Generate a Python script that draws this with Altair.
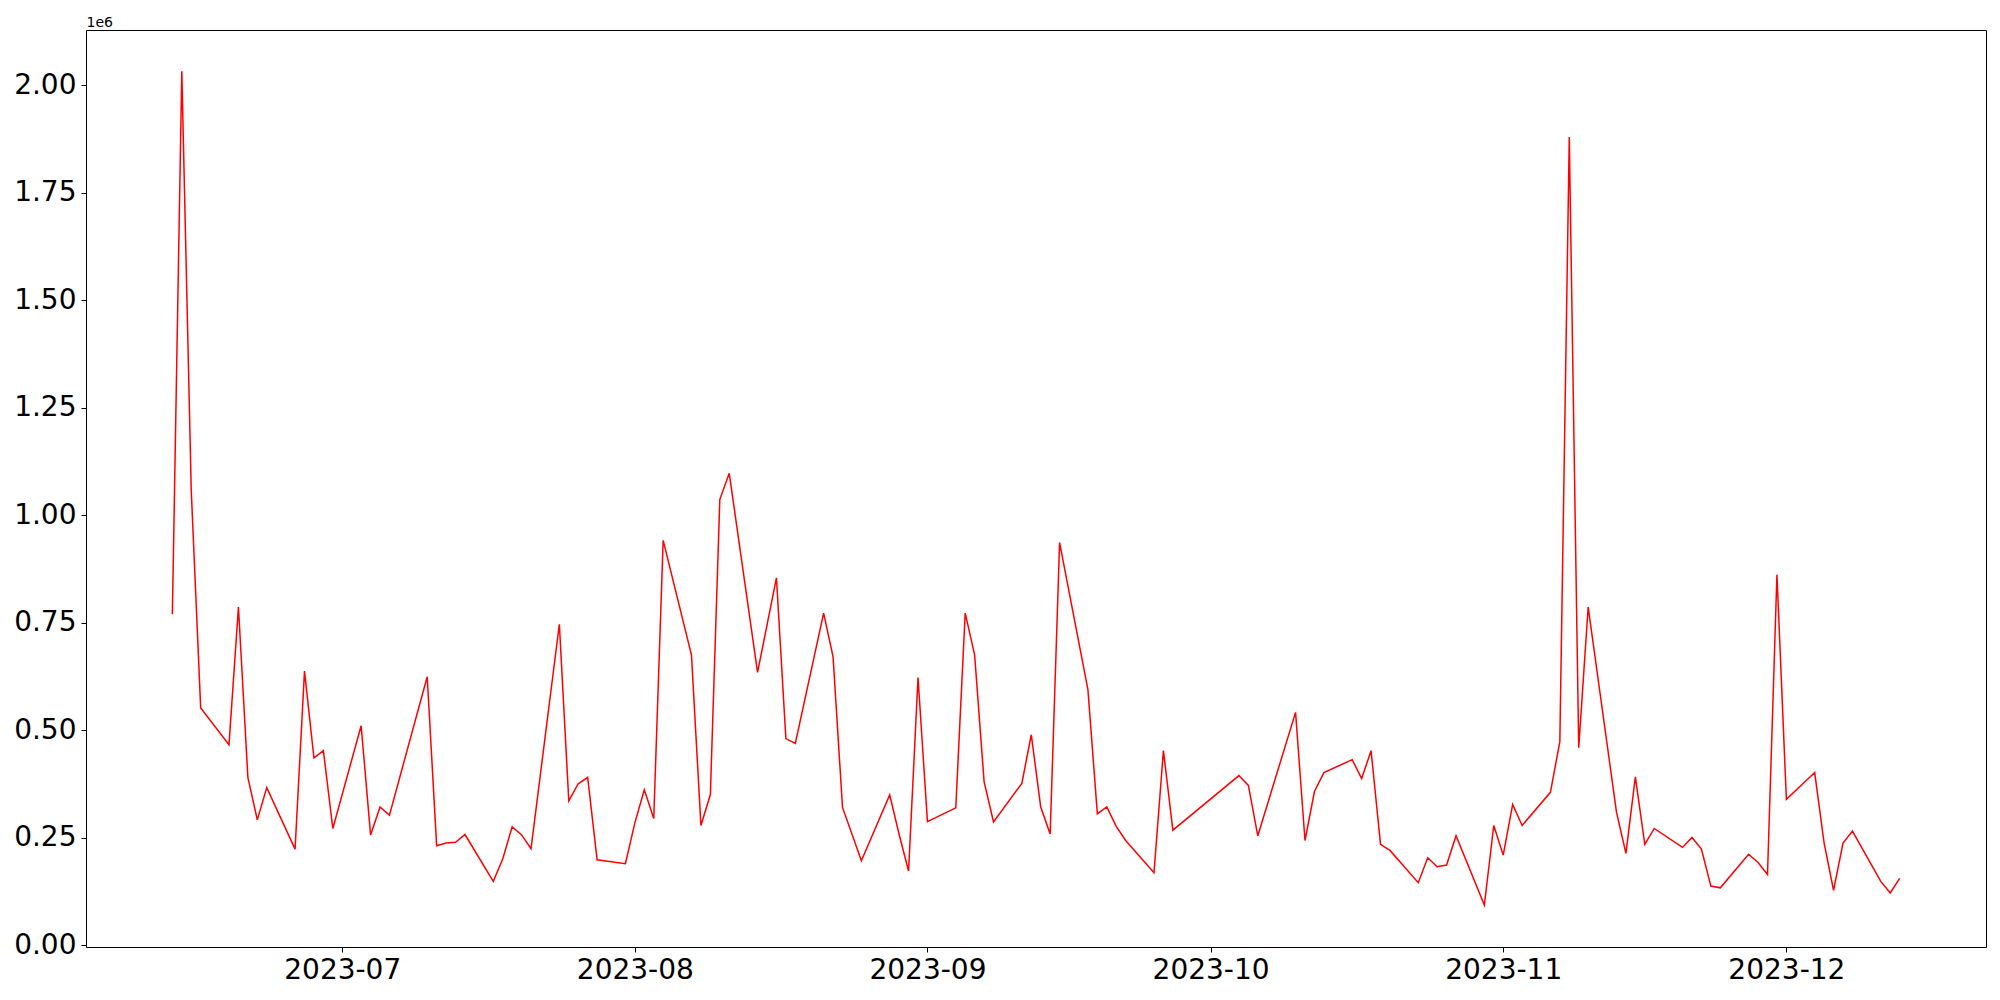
import altair as alt
import pandas as pd

dates = [
    "2023-06-13", "2023-06-14", "2023-06-15", "2023-06-16", "2023-06-19", "2023-06-20",
    "2023-06-21", "2023-06-22", "2023-06-23", "2023-06-26", "2023-06-27", "2023-06-28",
    "2023-06-29", "2023-06-30", "2023-07-03", "2023-07-04", "2023-07-05", "2023-07-06",
    "2023-07-10", "2023-07-11", "2023-07-12", "2023-07-13", "2023-07-14", "2023-07-17",
    "2023-07-18", "2023-07-19", "2023-07-20", "2023-07-21", "2023-07-24", "2023-07-25",
    "2023-07-26", "2023-07-27", "2023-07-28", "2023-07-31", "2023-08-01", "2023-08-02",
    "2023-08-03", "2023-08-04", "2023-08-07", "2023-08-08", "2023-08-09", "2023-08-10",
    "2023-08-11", "2023-08-14", "2023-08-16", "2023-08-17", "2023-08-18", "2023-08-21",
    "2023-08-22", "2023-08-23", "2023-08-25", "2023-08-28", "2023-08-29", "2023-08-30",
    "2023-08-31", "2023-09-01", "2023-09-04", "2023-09-05", "2023-09-06", "2023-09-07",
    "2023-09-08", "2023-09-11", "2023-09-12", "2023-09-13", "2023-09-14", "2023-09-15",
    "2023-09-18", "2023-09-19", "2023-09-20", "2023-09-21", "2023-09-22", "2023-09-25",
    "2023-09-26", "2023-09-27", "2023-10-04", "2023-10-05", "2023-10-06", "2023-10-10",
    "2023-10-11", "2023-10-12", "2023-10-13", "2023-10-16", "2023-10-17", "2023-10-18",
    "2023-10-19", "2023-10-20", "2023-10-23", "2023-10-24", "2023-10-25", "2023-10-26",
    "2023-10-27", "2023-10-30", "2023-10-31", "2023-11-01", "2023-11-02", "2023-11-03",
    "2023-11-06", "2023-11-07", "2023-11-08", "2023-11-09", "2023-11-10", "2023-11-13",
    "2023-11-14", "2023-11-15", "2023-11-16", "2023-11-17", "2023-11-20", "2023-11-21",
    "2023-11-22", "2023-11-23", "2023-11-24", "2023-11-27", "2023-11-28", "2023-11-29",
    "2023-11-30", "2023-12-01", "2023-12-04", "2023-12-05", "2023-12-06", "2023-12-07",
    "2023-12-08", "2023-12-11", "2023-12-12", "2023-12-13",
]

values = [
    769000, 2032000, 1058000, 551000, 466000, 786000,
    390000, 291000, 366000, 223000, 637000, 435000,
    452000, 271000, 510000, 256000, 321000, 302000,
    624000, 231000, 237000, 239000, 257000, 148000,
    200000, 275000, 256000, 224000, 746000, 335000,
    375000, 390000, 198000, 189000, 284000, 361000,
    294000, 941000, 674000, 278000, 350000, 1036000,
    1097000, 634000, 854000, 480000, 469000, 772000,
    670000, 320000, 196000, 349000, 257000, 172000,
    622000, 287000, 319000, 772000, 674000, 380000,
    286000, 376000, 489000, 321000, 258000, 936000,
    594000, 305000, 321000, 276000, 243000, 168000,
    452000, 267000, 394000, 371000, 254000, 541000,
    243000, 357000, 401000, 431000, 387000, 452000,
    234000, 220000, 145000, 203000, 182000, 186000,
    254000, 93000, 278000, 209000, 327000, 278000,
    355000, 473000, 1879000, 459000, 786000, 309000,
    213000, 391000, 234000, 271000, 227000, 250000,
    223000, 137000, 133000, 211000, 192000, 164000,
    861000, 339000, 401000, 237000, 127000, 237000,
    265000, 148000, 121000, 155000,
]

x_tick_dates = ["2023-07-01", "2023-08-01", "2023-09-01", "2023-10-01", "2023-11-01", "2023-12-01"]
y_tick_values = [0, 250000, 500000, 750000, 1000000, 1250000, 1500000, 1750000, 2000000]


def ms(s):
    return int(pd.Timestamp(s, tz="UTC").value // 10**6)


df = pd.DataFrame({"date": dates, "value": values})

x_domain = [ms("2023-06-03T20:24:00"), ms("2023-12-22T03:36:00")]
x_ticks = [ms(d) for d in x_tick_dates]

FONT = "DejaVu Sans"

chart = (
    alt.Chart(df)
    .mark_line(color="#ff0000", strokeWidth=1.5)
    .encode(
        x=alt.X(
            "date:T",
            scale=alt.Scale(type="utc", domain=x_domain, nice=False),
            axis=alt.Axis(
                values=x_ticks,
                labelExpr="utcFormat(datum.value, '%Y-%m')",
                title=None,
                grid=False,
                domain=False,
                ticks=True,
                tickColor="black",
                tickSize=5,
                tickWidth=1,
                labelFontSize=28,
                labelFont=FONT,
                labelColor="black",
                labelPadding=4,
                labelFlush=False,
                labelOverlap=False,
            ),
        ),
        y=alt.Y(
            "value:Q",
            scale=alt.Scale(domain=[-4650, 2128000], nice=False, zero=False),
            axis=alt.Axis(
                values=y_tick_values,
                labelExpr="format(datum.value / 1e6, '.2f')",
                title="1e6",
                titleAngle=0,
                titleX=0,
                titleY=-4,
                titleAlign="left",
                titleBaseline="alphabetic",
                titleFontSize=14,
                titleFontWeight="normal",
                titleFont=FONT,
                titleColor="black",
                grid=False,
                domain=False,
                tickColor="black",
                tickSize=5,
                tickWidth=1,
                labelFontSize=28,
                labelFont=FONT,
                labelColor="black",
                labelPadding=5,
                labelFlush=False,
                labelOverlap=False,
            ),
        ),
    )
    .properties(
        width=1900,
        height=917,
        autosize=alt.AutoSizeParams(type="none"),
        padding={"left": 78, "top": 22, "right": 6, "bottom": 45},
        background="white",
    )
    .configure_view(stroke="black", strokeWidth=1)
)

chart.save("out.html", embed_options={"renderer": "svg", "actions": False})
